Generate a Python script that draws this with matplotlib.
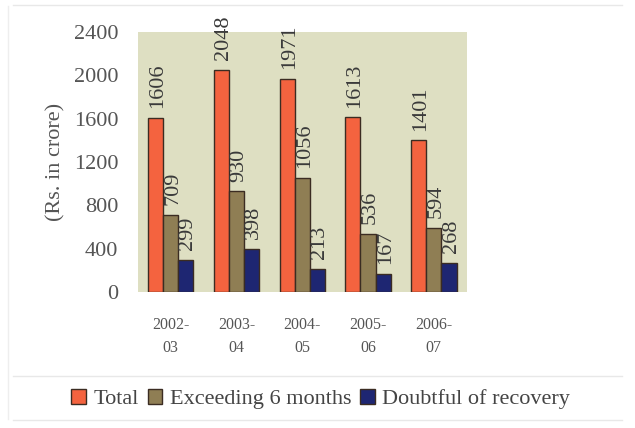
import numpy as np
import matplotlib.pyplot as plt
from matplotlib.lines import Line2D

# Years and outstanding amounts (Rs. in crore)
years = ['2002-\n03', '2003-\n04', '2004-\n05', '2005-\n06', '2006-\n07']
total = [1606, 2048, 1971, 1613, 1401]
exceeding = [709, 930, 1056, 536, 594]
doubtful = [299, 398, 213, 167, 268]

series = ['Total', 'Exceeding 6 months', 'Doubtful of recovery']
colors = ['#f4633f', '#8f7e54', '#1e2672']


def main():
    plt.rcParams['font.family'] = ['Liberation Serif', 'DejaVu Serif']
    grey = '#555555'

    fig = plt.figure(figsize=(6.35, 4.28), dpi=100)
    ax = fig.add_axes([0.217, 0.318, 0.518, 0.607])
    ax.set_facecolor('#dedfc2')

    x = np.arange(len(years))
    w = 0.23
    for i, (vals, col) in enumerate(zip([total, exceeding, doubtful], colors)):
        bars = ax.bar(x + (i - 1) * w, vals, width=w, color=col,
                      edgecolor='#3b2c22', linewidth=1.0, label=series[i])
        for b, v in zip(bars, vals):
            ax.annotate(str(v), (b.get_x() + b.get_width() / 2, v),
                        xytext=(1.5, 7), textcoords='offset points',
                        rotation=90, ha='center', va='bottom',
                        fontsize=16, color='#3a3a3a')

    ax.set_xlim(-0.5, len(years) - 0.5)
    ax.set_ylim(0, 2400)
    ax.set_yticks(range(0, 2401, 400))
    ax.set_xticks(x)
    ax.set_xticklabels(years, fontsize=11.5, color=grey, linespacing=1.6)
    ax.tick_params(axis='y', labelsize=16, labelcolor=grey, length=0, pad=14)
    ax.tick_params(axis='x', length=0, pad=18)
    for s in ax.spines.values():
        s.set_visible(False)

    ax.set_ylabel('(Rs. in crore)', fontsize=16, color=grey, labelpad=6)

    handles = [plt.Rectangle((0, 0), 1, 1, facecolor=c, edgecolor='#3b2c22', linewidth=1)
               for c in colors]
    fig.legend(handles, series, loc='center', bbox_to_anchor=(0.505, 0.068),
               ncol=3, frameon=False,
               prop={'family': 'Liberation Serif', 'size': 16},
               handlelength=0.65, handleheight=0.65, handletextpad=0.35,
               columnspacing=0.4, labelcolor='#444444')

    # faint ruled lines of the surrounding table
    for y in [0.988, 0.122, 0.018]:
        fig.add_artist(Line2D([0.02, 0.98], [y, y], color='#e8e8e8', lw=1))
    fig.add_artist(Line2D([0.013, 0.013], [0.02, 0.985], color='#eeeeee', lw=1))

    fig.savefig('out.png', dpi=100)


if __name__ == '__main__':
    main()
